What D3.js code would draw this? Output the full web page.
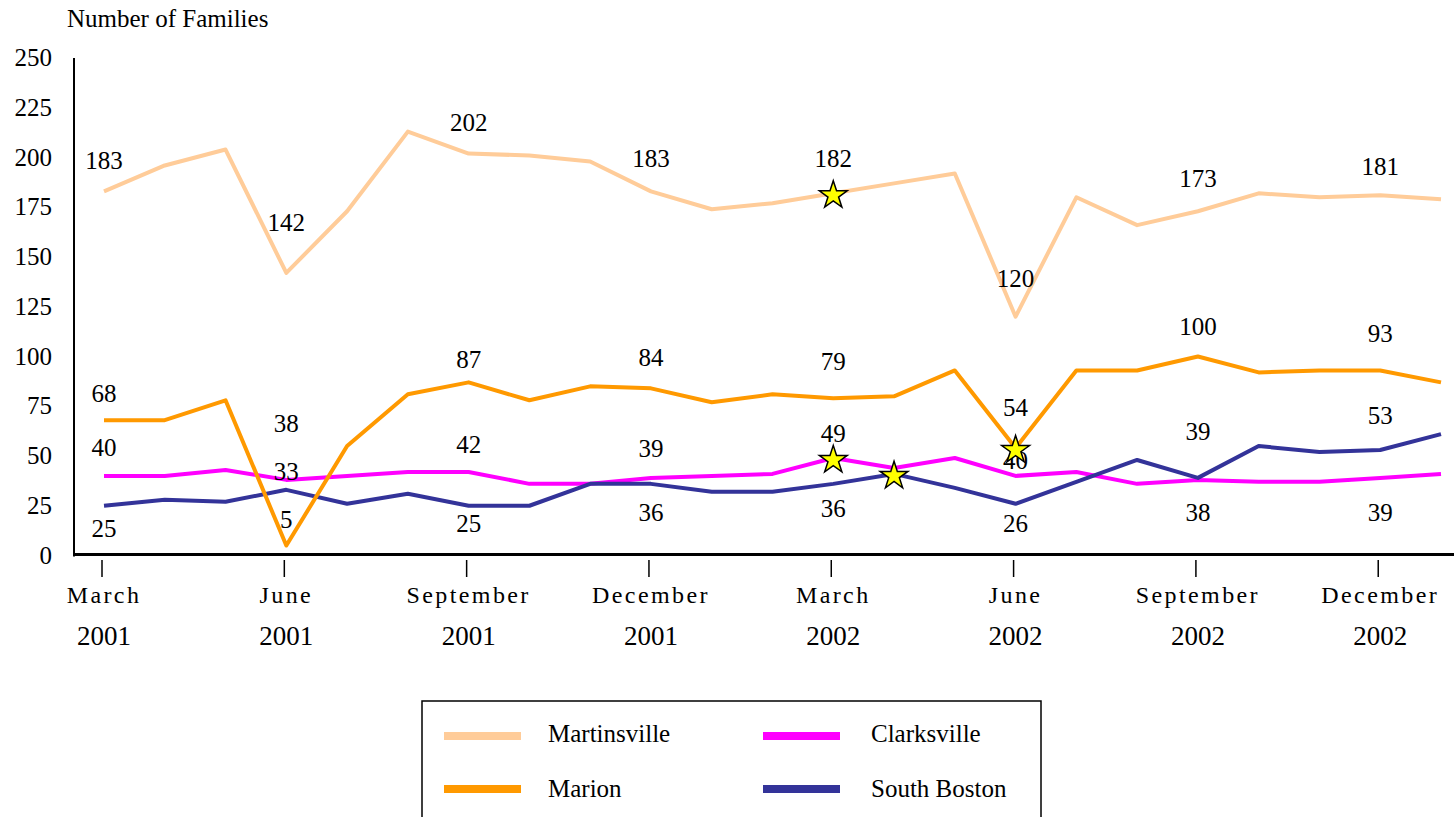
<!DOCTYPE html>
<html>
<head>
<meta charset="utf-8">
<script src="https://cdn.jsdelivr.net/npm/d3@7"></script>
<style>
  body { margin: 0; background: #fff; }
  text { font-family: "Liberation Serif", "Times New Roman", serif; fill: #000; }
</style>
</head>
<body>
<div id="chart"></div>
<script>
// --- data ---
const months = ["Mar 2001","Apr 2001","May 2001","Jun 2001","Jul 2001","Aug 2001","Sep 2001","Oct 2001","Nov 2001","Dec 2001",
  "Jan 2002","Feb 2002","Mar 2002","Apr 2002","May 2002","Jun 2002","Jul 2002","Aug 2002","Sep 2002","Oct 2002","Nov 2002","Dec 2002","Jan 2003"];
const martinsville = [183,196,204,142,173,213,202,201,198,183,174,177,182,187,192,120,180,166,173,182,180,181,179];
const marion       = [68,68,78,5,55,81,87,78,85,84,77,81,79,80,93,54,93,93,100,92,93,93,87];
const clarksville  = [40,40,43,38,40,42,42,36,36,39,40,41,49,44,49,40,42,36,38,37,37,39,41];
const southBoston  = [25,28,27,33,26,31,25,25,36,36,32,32,36,41,34,26,37,48,39,55,52,53,61];

const tickIdx = [0,3,6,9,12,15,18,21];
const tickMonths = ["March","June","September","December","March","June","September","December"];
const tickYears  = ["2001","2001","2001","2001","2002","2002","2002","2002"];
const yTicks = [0,25,50,75,100,125,150,175,200,225,250];

// quarterly labels are drawn at tickIdx; offsets (px) place them above/below the line
const series = [
  { name: "Martinsville", values: martinsville, color: "#FFCC99", labelDy: [-31,-50,-31,-33,-35,-38,-33,-29] },
  { name: "Clarksville",  values: clarksville,  color: "#FF00FF", labelDy: [-28,-56,-27,-29,-24,-15,33,35] },
  { name: "South Boston", values: southBoston,  color: "#333399", labelDy: [23,-18,18,29,25,20,-46,-35] },
  { name: "Marion",       values: marion,       color: "#FF9900", labelDy: [-27,-26,-23,-31,-37,-41,-30,-37] }
];
const stars = [
  { name: "Martinsville", idx: 12 },
  { name: "Clarksville", idx: 12 },
  { name: "South Boston", idx: 13 },
  { name: "Marion", idx: 15 }
];
const legendItems = [
  { name: "Martinsville", col: 0, row: 0 },
  { name: "Marion", col: 0, row: 1 },
  { name: "Clarksville", col: 1, row: 0 },
  { name: "South Boston", col: 1, row: 1 }
];

const W = 1454, H = 817;
const svg = d3.select("#chart").append("svg").attr("width", W).attr("height", H);

const x = d3.scaleLinear().domain([0, months.length - 1]).range([104, 1441]);
const y = d3.scaleLinear().domain([0, 250]).range([555.5, 58]);

// title
svg.append("text").attr("x", 67).attr("y", 27).style("font-size", "25px").text("Number of Families");

// y axis
svg.append("line").attr("x1", 74).attr("x2", 74).attr("y1", y(250)).attr("y2", y(0) + 1)
  .attr("stroke", "#000").attr("stroke-width", 2);
svg.selectAll(".ytick").data(yTicks).enter().append("text")
  .attr("x", 52).attr("y", d => y(d) + 8)
  .attr("text-anchor", "end").style("font-size", "25px")
  .text(d => d);

// x axis
svg.append("line").attr("x1", 73).attr("x2", W).attr("y1", 554.5).attr("y2", 554.5)
  .attr("stroke", "#000").attr("stroke-width", 3);
svg.selectAll(".xtick").data(tickIdx).enter().append("line")
  .attr("x1", d => x(d) - 2).attr("x2", d => x(d) - 2)
  .attr("y1", 560).attr("y2", 577)
  .attr("stroke", "#000").attr("stroke-width", 1.5);
svg.selectAll(".xmonth").data(tickIdx).enter().append("text")
  .attr("x", d => x(d)).attr("y", 603)
  .attr("text-anchor", "middle").style("font-size", "24px").style("letter-spacing", "2.4px")
  .text((d, i) => tickMonths[i]);
svg.selectAll(".xyear").data(tickIdx).enter().append("text")
  .attr("x", d => x(d)).attr("y", 645)
  .attr("text-anchor", "middle").style("font-size", "27px")
  .text((d, i) => tickYears[i]);

// lines
const line = d3.line().x((d, i) => x(i)).y(d => y(d));
series.forEach(s => {
  svg.append("path").datum(s.values)
    .attr("d", line)
    .attr("fill", "none")
    .attr("stroke", s.color)
    .attr("stroke-width", 4)
    .attr("stroke-linejoin", "round");
});

// data labels
series.forEach(s => {
  svg.selectAll(null).data(tickIdx).enter().append("text")
    .attr("x", d => x(d))
    .attr("y", (d, i) => y(s.values[d]) + s.labelDy[i] + 8.5)
    .attr("text-anchor", "middle").style("font-size", "25px")
    .text(d => s.values[d]);
});

// stars
const starPath = d3.symbol().type(d3.symbolStar).size(240);
stars.forEach(st => {
  const s = series.find(q => q.name === st.name);
  svg.append("path").attr("d", starPath())
    .attr("transform", `translate(${x(st.idx)},${y(s.values[st.idx]) + 2})`)
    .attr("fill", "#FFFF00").attr("stroke", "#000").attr("stroke-width", 1.5);
});

// legend
const lg = svg.append("g");
lg.append("rect").attr("x", 422).attr("y", 701).attr("width", 619).attr("height", 140)
  .attr("fill", "none").attr("stroke", "#000").attr("stroke-width", 1.5);
legendItems.forEach(it => {
  const s = series.find(q => q.name === it.name);
  const sx = it.col === 0 ? 444 : 763;
  const sy = it.row === 0 ? 736 : 789;
  const tx = it.col === 0 ? 548 : 871;
  lg.append("line").attr("x1", sx).attr("x2", sx + 77).attr("y1", sy).attr("y2", sy)
    .attr("stroke", s.color).attr("stroke-width", 8);
  lg.append("text").attr("x", tx).attr("y", sy + 6 + (it.row === 0 ? 0 : 2))
    .style("font-size", "25px").text(it.name);
});
</script>
</body>
</html>
